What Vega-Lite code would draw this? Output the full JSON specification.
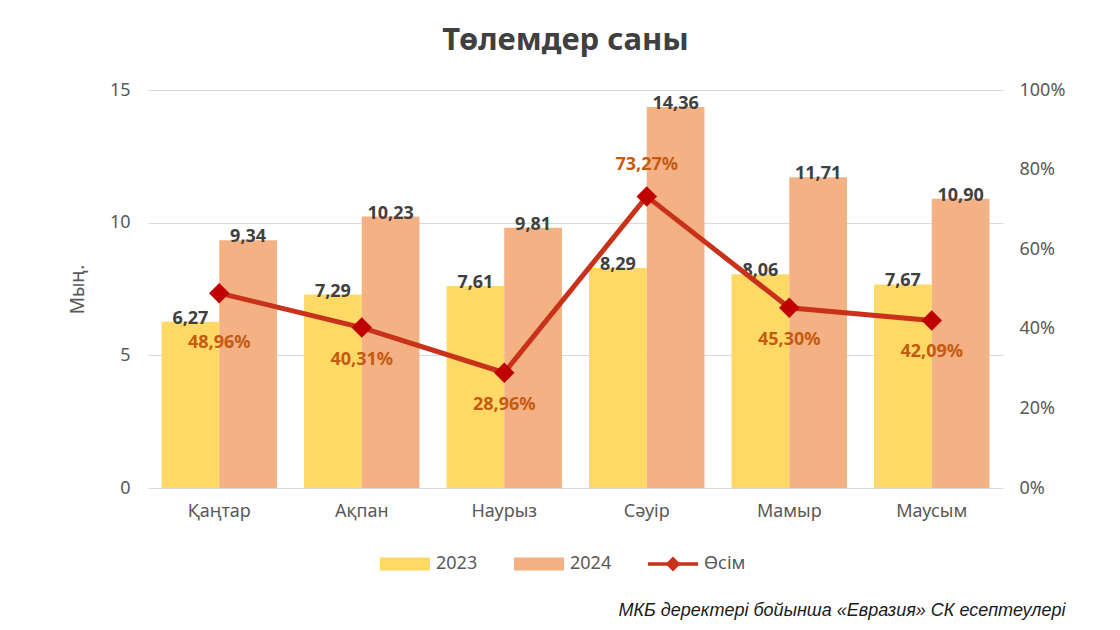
{
  "$schema": "https://vega.github.io/schema/vega-lite/v6.json",
  "autosize": {"type": "none"},
  "width": 855,
  "height": 398,
  "padding": {"left": 148, "top": 90, "right": 117, "bottom": 142},
  "background": "white",
  "config": {
    "locale": {"number": {"decimal": ",", "thousands": " ", "grouping": [3], "currency": ["", ""]}},
    "view": {"stroke": null},
    "font": "Noto Sans"
  },
  "title": {
    "text": "Төлемдер саны",
    "fontSize": 31,
    "fontWeight": "bold",
    "color": "#404040",
    "font": "Noto Sans",
    "anchor": "middle",
    "frame": "group",
    "dx": -10,
    "offset": 24
  },
  "datasets": {
    "bars": [
      {"month": "Қаңтар", "year": "2023", "value": 6.27},
      {"month": "Қаңтар", "year": "2024", "value": 9.34},
      {"month": "Ақпан", "year": "2023", "value": 7.29},
      {"month": "Ақпан", "year": "2024", "value": 10.23},
      {"month": "Наурыз", "year": "2023", "value": 7.61},
      {"month": "Наурыз", "year": "2024", "value": 9.81},
      {"month": "Сәуір", "year": "2023", "value": 8.29},
      {"month": "Сәуір", "year": "2024", "value": 14.36},
      {"month": "Мамыр", "year": "2023", "value": 8.06},
      {"month": "Мамыр", "year": "2024", "value": 11.71},
      {"month": "Маусым", "year": "2023", "value": 7.67},
      {"month": "Маусым", "year": "2024", "value": 10.90}
    ],
    "growth": [
      {"month": "Қаңтар", "series": "Өсім", "growth": 0.4896},
      {"month": "Ақпан", "series": "Өсім", "growth": 0.4031},
      {"month": "Наурыз", "series": "Өсім", "growth": 0.2896},
      {"month": "Сәуір", "series": "Өсім", "growth": 0.7327},
      {"month": "Мамыр", "series": "Өсім", "growth": 0.4530},
      {"month": "Маусым", "series": "Өсім", "growth": 0.4209}
    ]
  },
  "encoding": {
    "x": {
      "field": "month",
      "type": "nominal",
      "sort": ["Қаңтар", "Ақпан", "Наурыз", "Сәуір", "Мамыр", "Маусым"],
      "scale": {"paddingInner": 0.19, "paddingOuter": 0.095},
      "axis": {
        "title": "МКБ деректері бойынша «Евразия» СК есептеулері",
        "titleFont": "Liberation Sans",
        "titleFontStyle": "italic",
        "titleFontWeight": "normal",
        "titleFontSize": 18,
        "titleColor": "#1a1a1a",
        "titleAnchor": "end",
        "titleAlign": "right",
        "titleBaseline": "middle",
        "titleX": 917,
        "titleY": 122,
        "labelAngle": 0,
        "labelFontSize": 18,
        "labelColor": "#595959",
        "labelPadding": 14,
        "ticks": false,
        "domainColor": "#D9D9D9",
        "domainWidth": 1
      }
    }
  },
  "layer": [
    {
      "data": {"name": "bars"},
      "layer": [
        {
          "mark": {"type": "bar"},
          "encoding": {
            "xOffset": {"field": "year", "type": "nominal", "scale": {"paddingInner": 0, "paddingOuter": 0}},
            "y": {
              "field": "value",
              "type": "quantitative",
              "scale": {"domain": [0, 15], "nice": false},
              "axis": {
                "values": [0, 5, 10, 15],
                "title": "Мың.",
                "titleFontSize": 19,
                "titleFontWeight": "normal",
                "titleColor": "#595959",
                "titlePadding": 22,
                "labelFontSize": 18,
                "labelColor": "#595959",
                "labelPadding": 18,
                "ticks": false,
                "domain": false,
                "gridColor": "#D9D9D9",
                "gridWidth": 1
              }
            },
            "color": {
              "field": "year",
              "type": "nominal",
              "scale": {"domain": ["2023", "2024", "Өсім"], "range": ["#FFD966", "#F4B183", "#C9321A"]},
              "legend": {
                "title": null,
                "orient": "none",
                "direction": "horizontal",
                "legendX": 232,
                "legendY": 449,
                "labelFontSize": 18,
                "labelColor": "#595959",
                "labelFont": "Noto Sans",
                "symbolSize": 2500,
                "symbolStrokeWidth": 0,
                "symbolOpacity": 1,
                "columnPadding": 36,
                "labelOffset": 6,
                "encode": {
                  "symbols": {
                    "update": {
                      "shape": {"signal": "datum.label === 'Өсім' ? 'M-1,-0.07H-0.23L0,-0.3L0.23,-0.07H1V0.07H0.23L0,0.3L-0.23,0.07H-1Z' : 'M-1,-0.26H1V0.26H-1Z'"},
                      "fill": {"signal": "datum.label === '2023' ? '#FFD966' : datum.label === '2024' ? '#F4B183' : '#C4200F'"},
                      "fillOpacity": {"value": 1},
                      "strokeWidth": {"value": 0},
                      "size": {"value": 2500}
                    }
                  }
                }
              }
            }
          }
        },
        {
          "mark": {"type": "text", "fontWeight": "bold", "fontSize": 18, "color": "#404040", "baseline": "alphabetic", "dy": 2},
          "encoding": {
            "xOffset": {"field": "year", "type": "nominal"},
            "y": {"field": "value", "type": "quantitative"},
            "text": {"field": "value", "type": "quantitative", "format": ".2f"}
          }
        }
      ]
    },
    {
      "data": {"name": "growth"},
      "encoding": {
        "y": {
          "field": "growth",
          "type": "quantitative",
          "scale": {"domain": [0, 1], "nice": false},
          "axis": {
            "orient": "right",
            "values": [0, 0.2, 0.4, 0.6, 0.8, 1],
            "format": ".0%",
            "title": null,
            "labelFontSize": 18,
            "labelColor": "#595959",
            "labelPadding": 16,
            "ticks": false,
            "domain": false,
            "grid": false
          }
        }
      },
      "layer": [
        {
          "mark": {"type": "line", "strokeWidth": 5},
          "encoding": {
            "color": {"field": "series", "type": "nominal"}
          }
        },
        {
          "mark": {"type": "point", "shape": "diamond", "filled": true, "size": 420, "opacity": 1, "color": "#C00000"},
          "encoding": {}
        },
        {
          "transform": [{"filter": "datum.growth > 0.6"}],
          "mark": {"type": "text", "fontWeight": "bold", "fontSize": 18, "color": "#C55A11", "dy": -31},
          "encoding": {"text": {"field": "growth", "type": "quantitative", "format": ".2%"}}
        },
        {
          "transform": [{"filter": "datum.growth <= 0.6 && datum.month !== 'Қаңтар'"}],
          "mark": {"type": "text", "fontWeight": "bold", "fontSize": 18, "color": "#C55A11", "dy": 32},
          "encoding": {"text": {"field": "growth", "type": "quantitative", "format": ".2%"}}
        },
        {
          "transform": [{"filter": "datum.month === 'Қаңтар'"}],
          "mark": {"type": "text", "fontWeight": "bold", "fontSize": 18, "color": "#C55A11", "dy": 50},
          "encoding": {"text": {"field": "growth", "type": "quantitative", "format": ".2%"}}
        }
      ]
    }
  ],
  "resolve": {"scale": {"y": "independent"}}
}
